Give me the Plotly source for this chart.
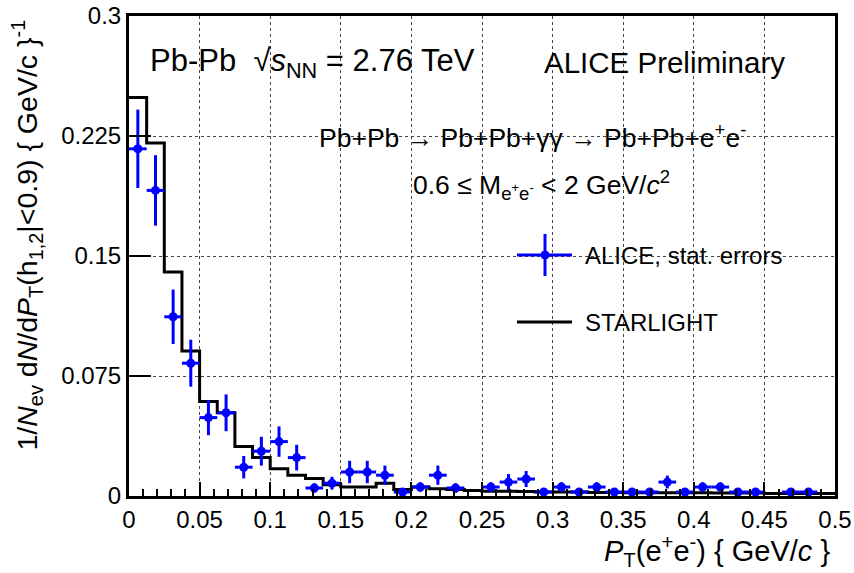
import plotly.graph_objects as go

# ---------------- data ----------------
BIN_WIDTH = 0.0125
N_BINS = 40

alice_y = [0.217, 0.191, 0.112, 0.083, 0.049, 0.052, 0.018, 0.028, 0.034, 0.024,
           0.005, 0.008, 0.015, 0.015, 0.013, 0.0025, 0.0056, 0.013, 0.005, None,
           0.0056, 0.0087, 0.0106, 0.0025, 0.0056, 0.0025, 0.0056, 0.0025, 0.0025, 0.0025,
           0.0087, 0.0025, 0.0056, 0.0056, 0.0025, 0.0025, None, 0.0025, 0.0025, None]
alice_err = [0.0245, 0.022, 0.017, 0.0147, 0.011, 0.0115, 0.007, 0.009, 0.0095, 0.008,
             0.003, 0.004, 0.007, 0.007, 0.006, 0.002, 0.003, 0.006, 0.003, None,
             0.003, 0.005, 0.005, 0.002, 0.003, 0.002, 0.003, 0.002, 0.002, 0.002,
             0.004, 0.002, 0.003, 0.003, 0.002, 0.002, None, 0.002, 0.002, None]

starlight = [0.249, 0.2206, 0.140, 0.0906, 0.059, 0.052, 0.031, 0.024, 0.017, 0.013,
             0.011, 0.007, 0.0056, 0.0056, 0.008, 0.004, 0.0056, 0.0045, 0.004, 0.0035,
             0.003, 0.003, 0.0028, 0.0025, 0.0025, 0.0025, 0.0022, 0.0022, 0.002, 0.002,
             0.002, 0.002, 0.002, 0.0018, 0.0018, 0.0018, 0.0015, 0.0015, 0.0015, 0.0015]

x_tickvals = [0, 0.05, 0.1, 0.15, 0.2, 0.25, 0.3, 0.35, 0.4, 0.45, 0.5]
x_ticktext = ["0", "0.05", "0.1", "0.15", "0.2", "0.25", "0.3", "0.35", "0.4", "0.45", "0.5"]
y_tickvals = [0, 0.075, 0.15, 0.225, 0.3]
y_ticktext = ["0", "0.075", "0.15", "0.225", "0.3"]

# ---------------- derived ----------------
centers = [(i + 0.5) * BIN_WIDTH for i in range(N_BINS)]
edges = [i * BIN_WIDTH for i in range(N_BINS + 1)]

ax_x, ax_y, ax_e = [], [], []
for c, v, e in zip(centers, alice_y, alice_err):
    if v is not None:
        ax_x.append(c)
        ax_y.append(v)
        ax_e.append(e)

hist_x = edges
hist_y = starlight + [starlight[-1]]

FONT = "Liberation Sans, Arial, Helvetica, sans-serif"
BLUE = "#0000ff"

# plot area in pixels
L, R, T, B = 129, 835, 16, 496
W, H = 854, 573


def px(xp):
    return (xp - L) / (R - L)


def py(yp):
    return (B - yp) / (B - T)


fig = go.Figure()

fig.add_trace(go.Scatter(
    x=hist_x, y=hist_y, mode="lines", line=dict(color="black", width=3, shape="hv"),
    name="STARLIGHT", showlegend=False, hoverinfo="skip"))

fig.add_trace(go.Scatter(
    x=ax_x, y=ax_y, mode="markers",
    marker=dict(color=BLUE, size=9, symbol="circle"),
    error_y=dict(type="data", array=ax_e, color=BLUE, thickness=3, width=0),
    error_x=dict(type="constant", value=BIN_WIDTH / 2, color=BLUE, thickness=3, width=0),
    name="ALICE, stat. errors", showlegend=False, cliponaxis=False))

shapes = []
# legend background (hides grid)
shapes.append(dict(type="rect", xref="paper", yref="paper", layer="between",
                   x0=px(505), x1=px(808), y0=py(345), y1=py(214),
                   fillcolor="white", line=dict(width=0)))
# legend samples
shapes.append(dict(type="line", xref="paper", yref="paper", x0=px(517), x1=px(572),
                   y0=py(255), y1=py(255), line=dict(color=BLUE, width=3)))
shapes.append(dict(type="line", xref="paper", yref="paper", x0=px(545), x1=px(545),
                   y0=py(234), y1=py(276), line=dict(color=BLUE, width=3)))
shapes.append(dict(type="circle", xref="paper", yref="paper", x0=px(541), x1=px(549),
                   y0=py(259), y1=py(251), fillcolor=BLUE, line=dict(color=BLUE, width=1)))
shapes.append(dict(type="line", xref="paper", yref="paper", x0=px(517), x1=px(572),
                   y0=py(322), y1=py(322), line=dict(color="black", width=3)))

NB = "\u00a0"
annotations = [
    dict(text=f"Pb-Pb{NB}{NB}√<i>s</i><sub>NN</sub>{NB}={NB}2.76 TeV", x=px(148), y=py(63),
         xanchor="left", yanchor="middle", font=dict(size=31)),
    dict(text="ALICE Preliminary", x=px(542), y=py(63),
         xanchor="left", yanchor="middle", font=dict(size=29.5)),
    dict(text="Pb+Pb → Pb+Pb+γγ → Pb+Pb+e<sup>+</sup>e<sup>-</sup>", x=px(532), y=py(136),
         xanchor="center", yanchor="middle", font=dict(size=26.5)),
    dict(text="0.6 ≤ M<sub>e<sup>+</sup>e<sup>-</sup></sub> < 2 GeV/<i>c</i><sup>2</sup>",
         x=px(541), y=py(185), xanchor="center", yanchor="middle", font=dict(size=26.5)),
    dict(text="ALICE, stat. errors", x=px(583), y=py(255), xanchor="left", yanchor="middle",
         font=dict(size=24)),
    dict(text="STARLIGHT", x=px(583), y=py(322), xanchor="left", yanchor="middle",
         font=dict(size=24)),
    dict(text="<i>P</i><sub>T</sub>(e<sup>+</sup>e<sup>-</sup>) { GeV/<i>c</i> }",
         x=px(832), y=py(551), xanchor="right", yanchor="middle", font=dict(size=29)),
    dict(text="1/<i>N</i><sub>ev</sub> d<i>N</i>/d<i>P</i><sub>T</sub>(h<sub>1,2</sub>|<0.9) { GeV/c }<sup>-1</sup>",
         x=px(27), y=py(18), xanchor="center", yanchor="top", textangle=-90,
         font=dict(size=28.5)),
]
for a in annotations:
    a.update(xref="paper", yref="paper", showarrow=False)
    a["font"].update(family=FONT, color="black")

fig.update_layout(
    width=W, height=H,
    margin=dict(l=L, r=W - R, t=T, b=H - B, pad=0, autoexpand=False),
    paper_bgcolor="white", plot_bgcolor="white",
    font=dict(family=FONT, color="black", size=24),
    showlegend=False,
    shapes=shapes, annotations=annotations,
    xaxis=dict(range=[0, 0.5], tickvals=x_tickvals, ticktext=x_ticktext, automargin=False,
               ticks="inside", ticklen=14, tickwidth=2, tickcolor="black",
               minor=dict(dtick=0.01, tick0=0, ticks="inside", ticklen=7, tickwidth=2,
                          tickcolor="black", showgrid=False),
               showline=True, linewidth=3, linecolor="black", mirror=True,
               showgrid=True, gridcolor="#444", gridwidth=1, griddash="dot",
               zeroline=False, tickfont=dict(size=24, family=FONT, color="black")),
    yaxis=dict(range=[0, 0.3], tickvals=y_tickvals, ticktext=y_ticktext, automargin=False,
               ticks="inside", ticklen=22, tickwidth=2, tickcolor="black",
               showline=True, linewidth=3, linecolor="black", mirror=True,
               showgrid=True, gridcolor="#444", gridwidth=1, griddash="dot",
               zeroline=False, tickfont=dict(size=24, family=FONT, color="black")),
)

fig.write_html(
    "out.html",
    config={"displayModeBar": False},
    post_script="document.body.style.margin='0px';document.body.style.overflow='hidden';",
)
